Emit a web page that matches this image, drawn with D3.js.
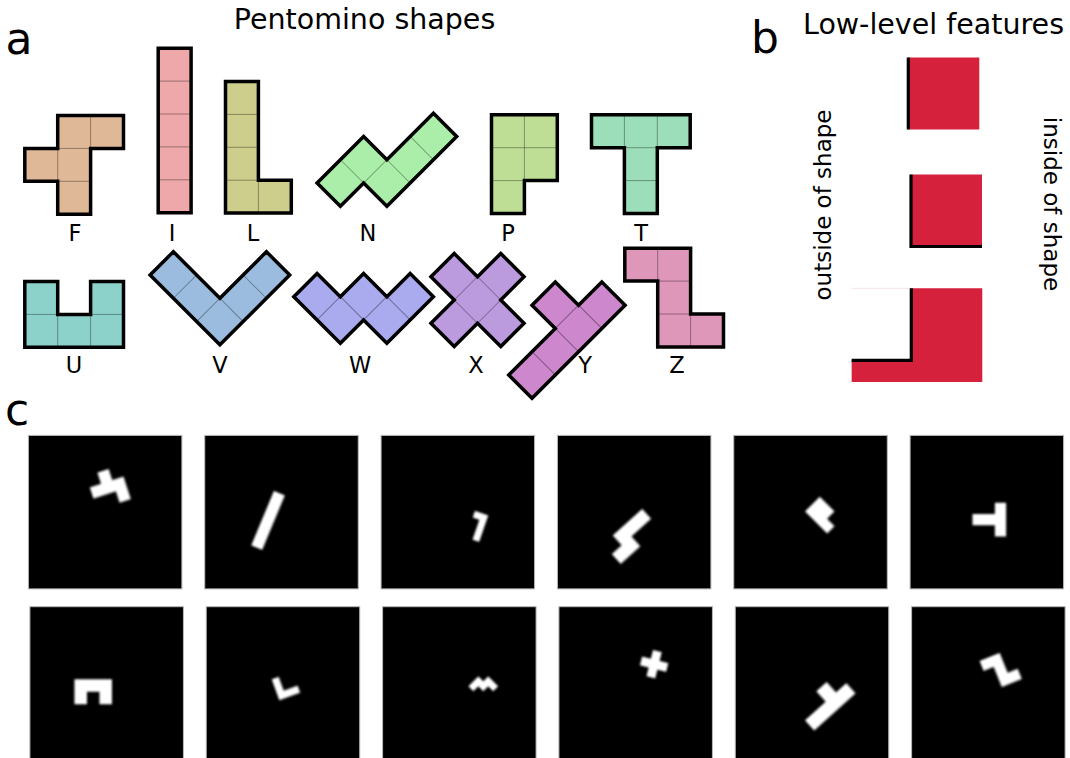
<!DOCTYPE html>
<html>
<head>
<meta charset="utf-8">
<script src="https://cdn.jsdelivr.net/npm/d3@7"></script>
<style>
  body { margin: 0; background: #fff; }
  text { font-family: "DejaVu Sans", sans-serif; fill: #000; }
</style>
</head>
<body>
<div id="fig"></div>
<script>
// Pentomino names, colours and cells ([col,row]) for panel a
var names = ["F", "I", "L", "N", "P", "T", "U", "V", "W", "X", "Y", "Z"];
var colors = ["#dfb997", "#eea8aa", "#cdcd8c", "#aaeeaa", "#bede96", "#9bdeb9",
              "#8cd2ca", "#9bbcde", "#aaaaee", "#bb9bde", "#cd87cd", "#de96b9"];
var cells = [
  [[1,0],[2,0],[0,1],[1,1],[1,2]],
  [[0,0],[0,1],[0,2],[0,3],[0,4]],
  [[0,0],[0,1],[0,2],[0,3],[1,3]],
  [[0,0],[1,0],[1,1],[2,1],[3,1]],
  [[0,0],[1,0],[0,1],[1,1],[0,2]],
  [[0,0],[1,0],[2,0],[1,1],[1,2]],
  [[0,0],[2,0],[0,1],[1,1],[2,1]],
  [[0,0],[0,1],[0,2],[1,2],[2,2]],
  [[0,0],[0,1],[1,1],[1,2],[2,2]],
  [[1,0],[0,1],[1,1],[2,1],[1,2]],
  [[0,1],[1,1],[2,1],[3,1],[2,0]],
  [[0,0],[1,0],[1,1],[1,2],[2,2]]
];

// panel a layout: grid origin, rotation and label position per shape
var originX = [24.8, 158.2, 225.5, 317.1, 491.5, 591.5, 24.8, 150.1, 293.8, 407.7, 485.5, 624.8];
var originY = [115.5, 48.2, 81.5, 183, 114.8, 114.8, 281.5, 275, 296.7, 300, 351.7, 248.2];
var angles  = [0, 0, 0, -45, 0, 0, 0, -45, -45, -45, -45, 0];
var labelX  = [75, 172, 253, 368, 508, 641, 74, 220, 360, 476, 585, 677];
var labelY  = [241, 241, 241, 241, 241, 241, 373, 373, 373, 373, 373, 373];

// panel b: low-level features in cell units (red inside, black shape edge)
var featureFill = [
  [[0,0],[1,0],[1,1],[0,1]],
  [[0,0],[1,0],[1,1],[0,1]],
  [[0,0],[1,0],[1,1.3],[-0.84,1.3],[-0.84,1],[0,1]]
];
var featureEdge = [
  [[0,0],[0,1]],
  [[0,0],[0,1],[1,1]],
  [[0,0],[0,1],[-0.84,1]]
];
var featureTop = [57.5, 174.5, 288.3];
var featureDx = [-1.7, 1, 1.3];

// panel c: sample images, one pentomino each
var sampleCells = [
  [[1,0],[0,1],[1,1],[2,1],[2,2]],
  [[0,0],[0,1],[0,2],[0,3],[0,4]],
  [[0,0],[1,0],[1,1],[1,2],[1,3]],
  [[0,1],[1,1],[1,0],[2,0],[3,0]],
  [[0,0],[1,0],[0,1],[1,1],[0,2]],
  [[2,0],[2,1],[2,2],[0,1],[1,1]],
  [[0,0],[1,0],[2,0],[0,1],[2,1]],
  [[0,0],[0,1],[0,2],[1,2],[2,2]],
  [[0,0],[0,1],[1,1],[1,2],[2,2]],
  [[1,0],[0,1],[1,1],[2,1],[1,2]],
  [[0,1],[1,1],[2,1],[3,1],[2,0]],
  [[0,0],[1,0],[1,1],[1,2],[2,2]]
];
var sampleAngle = [-18, 22.6, 19, -42, -45, 0, 0, -20, 135, 14, -42, -22];
var sampleSize  = [11.8, 11.8, 7, 13.2, 10.4, 11.2, 12.5, 7.4, 7, 9, 13.9, 10.8];
var sampleCx    = [81.9, 63.3, 99.3, 74, 86, 79.2, 63.3, 79.7, 100.7, 95.2, 95, 89.1];
var sampleCy    = [50.4, 85, 91, 101, 79.7, 84.2, 85, 81.8, 77.1, 57.5, 99.6, 63.2];

var svg = d3.select("#fig").append("svg")
    .attr("width", 1070)
    .attr("height", 758);

// fill, outer edges and inner edges of a set of cells
function cellGeometry(cl, sc) {
  var key = new Set(cl.map(d => d[0] + "," + d[1]));
  var has = (c, r) => key.has(c + "," + r);
  var seg = (x1, y1, x2, y2) => "M" + sc(x1) + "," + sc(y1) + "L" + sc(x2) + "," + sc(y2);
  var fill = "", outer = "", inner = "";
  cl.forEach(function(d) {
    var c = d[0], r = d[1];
    fill += "M" + sc(c) + "," + sc(r) + "H" + sc(c + 1) + "V" + sc(r + 1) + "H" + sc(c) + "Z";
    if (has(c, r - 1)) inner += seg(c, r, c + 1, r); else outer += seg(c, r, c + 1, r);
    if (has(c - 1, r)) inner += seg(c, r, c, r + 1); else outer += seg(c, r, c, r + 1);
    if (!has(c, r + 1)) outer += seg(c, r + 1, c + 1, r + 1);
    if (!has(c + 1, r)) outer += seg(c + 1, r, c + 1, r + 1);
  });
  return {fill: fill, outer: outer, inner: inner};
}

// ---------- panel a ----------
var cellA = d3.scaleLinear().domain([0, 1]).range([0, 32.9]);

names.forEach(function(n, i) {
  var g = svg.append("g")
    .attr("transform", `translate(${originX[i]},${originY[i]}) rotate(${angles[i]})`);
  var geo = cellGeometry(cells[i], cellA);
  g.append("path").attr("d", geo.fill).attr("fill", colors[i]);
  g.append("path").attr("d", geo.inner)
    .attr("fill", "none").attr("stroke", "#000")
    .attr("stroke-opacity", 0.35).attr("stroke-width", 1);
  g.append("path").attr("d", geo.outer)
    .attr("fill", "none").attr("stroke", "#000")
    .attr("stroke-width", 3.5).attr("stroke-linecap", "square");

  svg.append("text")
    .attr("x", labelX[i]).attr("y", labelY[i])
    .attr("text-anchor", "middle")
    .style("font-size", "22.5px")
    .text(n);
});

svg.append("text").attr("x", 5.5).attr("y", 54).style("font-size", "44px").text("a");
svg.append("text").attr("x", 364.5).attr("y", 28.5)
  .attr("text-anchor", "middle").style("font-size", "28.5px").text("Pentomino shapes");

// ---------- panel b ----------
var bx = d3.scaleLinear().domain([0, 1]).range([910, 981]);
var by = d3.scaleLinear().domain([0, 1]).range([0, 72]);
var line = d3.line().x(d => bx(d[0])).y(d => by(d[1]));

// faint trace above the concave corner
svg.append("path")
  .attr("transform", `translate(${featureDx[2]},${featureTop[2]})`)
  .attr("d", line([[-0.84, 0], [0, 0]]))
  .attr("stroke", "#f3e3e5").attr("stroke-width", 1).attr("fill", "none");

featureFill.forEach(function(poly, i) {
  var g = svg.append("g").attr("transform", `translate(${featureDx[i]},${featureTop[i]})`);
  g.append("path").attr("d", line(poly) + "Z").attr("fill", "#d5213c");
  g.append("path").attr("d", line(featureEdge[i]))
    .attr("fill", "none").attr("stroke", "#000")
    .attr("stroke-width", 3.2).attr("stroke-linejoin", "miter");
});

svg.append("text").attr("x", 751).attr("y", 53).style("font-size", "44px").text("b");
svg.append("text").attr("x", 933.5).attr("y", 33.5)
  .attr("text-anchor", "middle").style("font-size", "28.5px").text("Low-level features");

svg.append("text")
  .attr("transform", "translate(830.5,205) rotate(-90)")
  .attr("text-anchor", "middle").style("font-size", "23px")
  .text("outside of shape");
svg.append("text")
  .attr("transform", "translate(1044,204) rotate(90)")
  .attr("text-anchor", "middle").style("font-size", "23px")
  .text("inside of shape");

// ---------- panel c ----------
svg.append("text").attr("x", 5).attr("y", 425).style("font-size", "44px").text("c");

var defs = svg.append("defs");
defs.append("filter").attr("id", "soft")
    .attr("x", "-50%").attr("y", "-50%").attr("width", "200%").attr("height", "200%")
  .append("feGaussianBlur").attr("stdDeviation", 1.3);

var sqSize = 153.5;
var colX = d3.scaleLinear().domain([0, 5]).range([28.4, 910.1]);
var rowY = d3.scaleLinear().domain([0, 1]).range([435.4, 606.7]);
var rowShift = [0, 1.5];

sampleCells.forEach(function(cl, i) {
  var col = i % 6, row = Math.floor(i / 6);
  var x0 = colX(col) + rowShift[row], y0 = rowY(row);

  svg.append("rect")
    .attr("x", x0).attr("y", y0)
    .attr("width", sqSize).attr("height", sqSize)
    .attr("fill", "#000").attr("stroke", "#b8b8b8").attr("stroke-width", 1);

  var sc = d3.scaleLinear().domain([0, 1]).range([0, sampleSize[i]]);
  var a = sampleAngle[i] * Math.PI / 180;
  var pts = [];
  cl.forEach(function(d) {
    [[0,0],[1,0],[0,1],[1,1]].forEach(function(k) {
      var px = sc(d[0] + k[0]), py = sc(d[1] + k[1]);
      pts.push([px * Math.cos(a) - py * Math.sin(a), px * Math.sin(a) + py * Math.cos(a)]);
    });
  });
  var ex = d3.extent(pts, p => p[0]), ey = d3.extent(pts, p => p[1]);
  var tx = x0 + sampleCx[i] - (ex[0] + ex[1]) / 2;
  var ty = y0 + sampleCy[i] - (ey[0] + ey[1]) / 2;

  svg.append("path")
    .attr("transform", `translate(${tx},${ty}) rotate(${sampleAngle[i]})`)
    .attr("d", cellGeometry(cl, sc).fill)
    .attr("fill", "#fff")
    .attr("filter", "url(#soft)");
});
</script>
</body>
</html>
